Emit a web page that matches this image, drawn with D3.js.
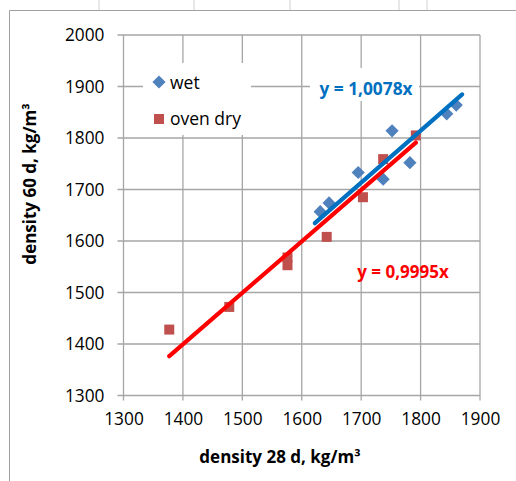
<!DOCTYPE html>
<html>
<head>
<meta charset="utf-8">
<script src="https://cdn.jsdelivr.net/npm/d3@7"></script>
<style>
  html, body { margin: 0; padding: 0; background: #fff; }
  svg { display: block; }
  text { font-family: "Open Sans", "Liberation Sans", sans-serif; }
</style>
</head>
<body>
<svg id="chart" width="516" height="481"></svg>
<script>
// Density after 28 days vs. density after 60 days, kg/m³
const wetX = [1631, 1646, 1695, 1737, 1752, 1782, 1844, 1860];
const wetY = [1657, 1674, 1733, 1720, 1814, 1752, 1847, 1864];
const dryX = [1377, 1478, 1576, 1576, 1642, 1703, 1737, 1792];
const dryY = [1428, 1472, 1568, 1553, 1608, 1685, 1759, 1805];
const wetSlope = 1.0078;
const drySlope = 0.9995;
// trendline forecast (backward, forward) in kg/m³
const wetForecast = [9, 10];
const dryForecast = [0, 0];
const xTicks = [1300, 1400, 1500, 1600, 1700, 1800, 1900];
const yTicks = [1300, 1400, 1500, 1600, 1700, 1800, 1900, 2000];
const seriesNames = ["wet", "oven dry"];
const wetLabel = "y = 1,0078x";
const dryLabel = "y = 0,9995x";
const xTitle = "density 28 d, kg/m³";
const yTitle = "density 60 d, kg/m³";

const svg = d3.select("#chart");
const gridColor = "#a6a6a6";
const wetColor = "#4F81BD", dryColor = "#C0504D";
const wetLine = "#0070C0", dryLine = "#FF0000";

const x = d3.scaleLinear().domain([1300, 1900]).range([123.5, 480]);
const y = d3.scaleLinear().domain([1300, 2000]).range([395.5, 35]);

// spreadsheet cell borders behind the chart object
const cellLines = [99, 194, 290, 399, 427];
svg.selectAll("line.cell").data(cellLines).enter().append("line")
  .attr("x1", d => d).attr("x2", d => d).attr("y1", 0).attr("y2", 10)
  .attr("stroke", "#d0d0d0").attr("stroke-width", 1);
svg.append("path").attr("d", "M9.5,481V10.5H516")
  .attr("fill", "none").attr("stroke", "#a0a0a0").attr("stroke-width", 1);

// gridlines, extended past the axes as tick marks
const g = svg.append("g");
g.selectAll("line.vg").data(xTicks).enter().append("line")
  .attr("x1", d => x(d)).attr("x2", d => x(d))
  .attr("y1", y(2000)).attr("y2", y(1300) + 5)
  .attr("stroke", gridColor).attr("stroke-width", 1.3);
g.selectAll("line.hg").data(yTicks).enter().append("line")
  .attr("x1", x(1300) - 6).attr("x2", x(1900))
  .attr("y1", d => y(d)).attr("y2", d => y(d))
  .attr("stroke", gridColor).attr("stroke-width", 1.3);

// axes (labels only; lines come from the grid)
const xAxis = svg.append("g").attr("transform", `translate(0,${y(1300)})`)
  .call(d3.axisBottom(x).tickValues(xTicks).tickSize(0).tickPadding(17).tickFormat(d3.format("d")));
const yAxis = svg.append("g").attr("transform", `translate(${x(1300)},0)`)
  .call(d3.axisLeft(y).tickValues(yTicks).tickSize(0).tickPadding(19).tickFormat(d3.format("d")));
[xAxis, yAxis].forEach(a => {
  a.select(".domain").remove();
  a.selectAll("text").attr("font-size", 17.3).attr("fill", "#000")
    .style("font-family", "'Open Sans', sans-serif");
});

// axis titles
svg.append("text").attr("x", 280).attr("y", 463).attr("text-anchor", "middle")
  .attr("font-size", 17).attr("font-weight", "bold").attr("fill", "#000").text(xTitle);
svg.append("text").attr("transform", "translate(36,184) rotate(-90)").attr("text-anchor", "middle")
  .attr("font-size", 17).attr("font-weight", "bold").attr("fill", "#000").text(yTitle);

// marker shapes
const diamond = { draw(ctx, size) { const r = Math.sqrt(size) / Math.SQRT2; ctx.moveTo(0, -r); ctx.lineTo(r, 0); ctx.lineTo(0, r); ctx.lineTo(-r, 0); ctx.closePath(); } };
const diamondPath = d3.symbol().type(diamond).size(6.6 * 6.6 * 2)();
const squarePath = d3.symbol().type(d3.symbolSquare).size(100)();

const wet = wetX.map((v, i) => [v, wetY[i]]);
const dry = dryX.map((v, i) => [v, dryY[i]]);

svg.append("g").selectAll("path").data(wet).enter().append("path")
  .attr("d", diamondPath).attr("transform", d => `translate(${x(d[0])},${y(d[1])})`)
  .attr("fill", wetColor);
svg.append("g").selectAll("path").data(dry).enter().append("path")
  .attr("d", squarePath).attr("transform", d => `translate(${x(d[0])},${y(d[1])})`)
  .attr("fill", dryColor);

// linear trendlines through the origin, over each series' x range plus forecast
function trend(xs, slope, forecast, color) {
  const ext = d3.extent(xs);
  const x0 = ext[0] - forecast[0], x1 = ext[1] + forecast[1];
  svg.append("line")
    .attr("x1", x(x0)).attr("y1", y(x0 * slope))
    .attr("x2", x(x1)).attr("y2", y(x1 * slope))
    .attr("stroke", color).attr("stroke-width", 4.2).attr("stroke-linecap", "round");
}
trend(dryX, drySlope, dryForecast, dryLine);
trend(wetX, wetSlope, wetForecast, wetLine);

// legend
const leg = svg.append("g");
leg.append("rect").attr("x", 143).attr("y", 63).attr("width", 108).attr("height", 72).attr("fill", "#fff");
leg.append("path").attr("d", diamondPath).attr("transform", "translate(159,82)").attr("fill", wetColor);
leg.append("path").attr("d", squarePath).attr("transform", "translate(159,119)").attr("fill", dryColor);
leg.append("text").attr("x", 170).attr("y", 89).attr("font-size", 17.5).attr("fill", "#000").text(seriesNames[0]);
leg.append("text").attr("x", 170).attr("y", 125).attr("font-size", 17.5).attr("fill", "#000").text(seriesNames[1]);

// trendline equations
svg.append("rect").attr("x", 310).attr("y", 68).attr("width", 109).attr("height", 33).attr("fill", "#fff");
svg.append("text").attr("x", 366).attr("y", 95).attr("text-anchor", "middle")
  .attr("font-size", 17.3).attr("font-weight", "bold").attr("fill", wetLine).text(wetLabel);
svg.append("text").attr("x", 403).attr("y", 278).attr("text-anchor", "middle")
  .attr("font-size", 17).attr("font-weight", "bold").attr("fill", dryLine).text(dryLabel);
</script>
</body>
</html>
